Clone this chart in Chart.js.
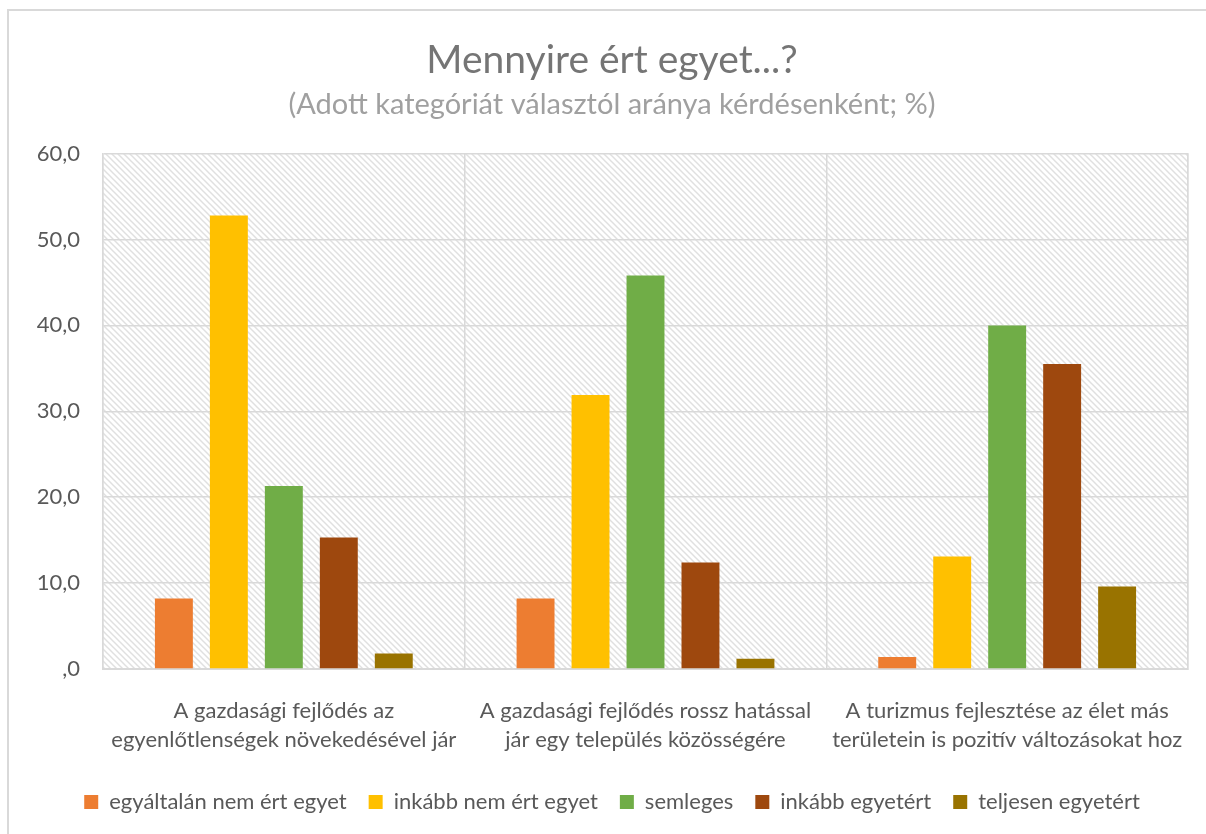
<!DOCTYPE html>
<html>
<head>
  <title>Mennyire ért egyet</title>
  <script src="https://cdn.jsdelivr.net/npm/chart.js"></script>
  <style>
    body { margin: 0; background: #fff; }
    .container { width: 1206px; height: 834px; position: relative; }
  </style>
</head>
<body>
  <div class="container">
    <canvas id="chart_agree"></canvas>
  </div>

  <script>
    // categories (questions), two lines each
    const questions = [
      ['A gazdasági fejlődés az', 'egyenlőtlenségek növekedésével jár'],
      ['A gazdasági fejlődés rossz hatással', 'jár egy település közösségére'],
      ['A turizmus fejlesztése az élet más', 'területein is pozitív változásokat hoz']
    ];

    const answerLabels = ['egyáltalán nem ért egyet', 'inkább nem ért egyet', 'semleges', 'inkább egyetért', 'teljesen egyetért'];
    const answerColors = ['#ED7D31', '#FFC000', '#70AD47', '#9E480E', '#997300'];

    // share of respondents (%) per question
    const notAtAll = [8.2, 8.2, 1.4];
    const ratherNot = [52.8, 31.9, 13.1];
    const neutral = [21.3, 45.8, 40.0];
    const ratherYes = [15.3, 12.4, 35.5];
    const fully = [1.8, 1.2, 9.6];

    const yTickLabels = [',0', '10,0', '20,0', '30,0', '40,0', '50,0', '60,0'];

    const seriesValues = [notAtAll, ratherNot, neutral, ratherYes, fully];

    // diagonal hatch for the plot background
    function makeHatch() {
      const c = document.createElement('canvas');
      c.width = 6; c.height = 6;
      const g = c.getContext('2d');
      g.fillStyle = '#ffffff';
      g.fillRect(0, 0, 6, 6);
      g.strokeStyle = '#e0e0e0';
      g.lineWidth = 1.5;
      g.beginPath();
      g.moveTo(-1, -1); g.lineTo(7, 7);
      g.moveTo(-7, -1); g.lineTo(1, 7);
      g.moveTo(5, -1); g.lineTo(13, 7);
      g.stroke();
      return g.createPattern(c, 'repeat');
    }

    const plotBackground = {
      id: 'plotBackground',
      beforeDraw(chart) {
        const ctx = chart.ctx;
        const a = chart.chartArea;
        ctx.save();
        ctx.fillStyle = '#ffffff';
        ctx.fillRect(0, 0, chart.width, chart.height);
        ctx.strokeStyle = '#d9d9d9';
        ctx.lineWidth = 2;
        ctx.strokeRect(8, 10, chart.width + 20, chart.height + 20);
        ctx.fillStyle = makeHatch();
        ctx.fillRect(a.left, a.top, a.right - a.left, a.bottom - a.top);
        ctx.restore();
      }
    };

    const ctx = document.getElementById('chart_agree').getContext('2d');

    new Chart(ctx, {
      type: 'bar',
      data: {
        labels: questions,
        datasets: answerLabels.map((label, i) => ({
          label: label,
          data: seriesValues[i],
          backgroundColor: answerColors[i],
          borderWidth: 0,
          categoryPercentage: 0.76,
          barPercentage: 0.69
        }))
      },
      options: {
        responsive: true,
        maintainAspectRatio: false,
        animation: false,
        layout: { padding: { left: 18, right: 0, top: 0, bottom: 11 } },
        plugins: {
          title: {
            display: true,
            text: 'Mennyire ért egyet...?',
            color: '#757575',
            font: { family: 'Lato', size: 39, weight: 'normal' },
            padding: { top: 37, bottom: 0 }
          },
          subtitle: {
            display: true,
            text: '(Adott kategóriát választól aránya kérdésenként; %)',
            color: '#a0a0a0',
            font: { family: 'Lato', size: 29, weight: 'normal' },
            padding: { top: 3, bottom: 32 }
          },
          legend: {
            position: 'bottom',
            labels: {
              color: '#595959',
              font: { family: 'Lato', size: 22 },
              boxWidth: 14,
              boxHeight: 14,
              padding: 22
            }
          },
          tooltip: { enabled: false }
        },
        scales: {
          x: {
            grid: { color: '#d9d9d9', lineWidth: 1.5, drawTicks: false, offset: true },
            border: { color: '#d9d9d9', width: 2 },
            ticks: {
              color: '#595959',
              font: { family: 'Lato', size: 22, lineHeight: 1.32 },
              padding: 27,
              maxRotation: 0
            },
            afterFit(scale) {
              scale.height = 100;
              scale.paddingLeft = 0;
              scale.paddingRight = 0;
            }
          },
          y: {
            min: 0,
            max: 60,
            grid: { color: '#d9d9d9', lineWidth: 1.5, drawTicks: false },
            border: { color: '#d9d9d9', width: 1.5 },
            ticks: {
              stepSize: 10,
              color: '#595959',
              font: { family: 'Lato', size: 22 },
              padding: 23,
              callback: (value, index) => yTickLabels[index]
            },
            afterFit(scale) { scale.width = 85; }
          },
          yRight: {
            position: 'right',
            display: true,
            min: 0, max: 60,
            grid: { display: false },
            border: { color: '#d9d9d9', width: 1.5 },
            ticks: { display: false },
            afterFit(scale) { scale.width = 18; }
          }
        }
      },
      plugins: [plotBackground]
    });
  </script>
</body>
</html>
